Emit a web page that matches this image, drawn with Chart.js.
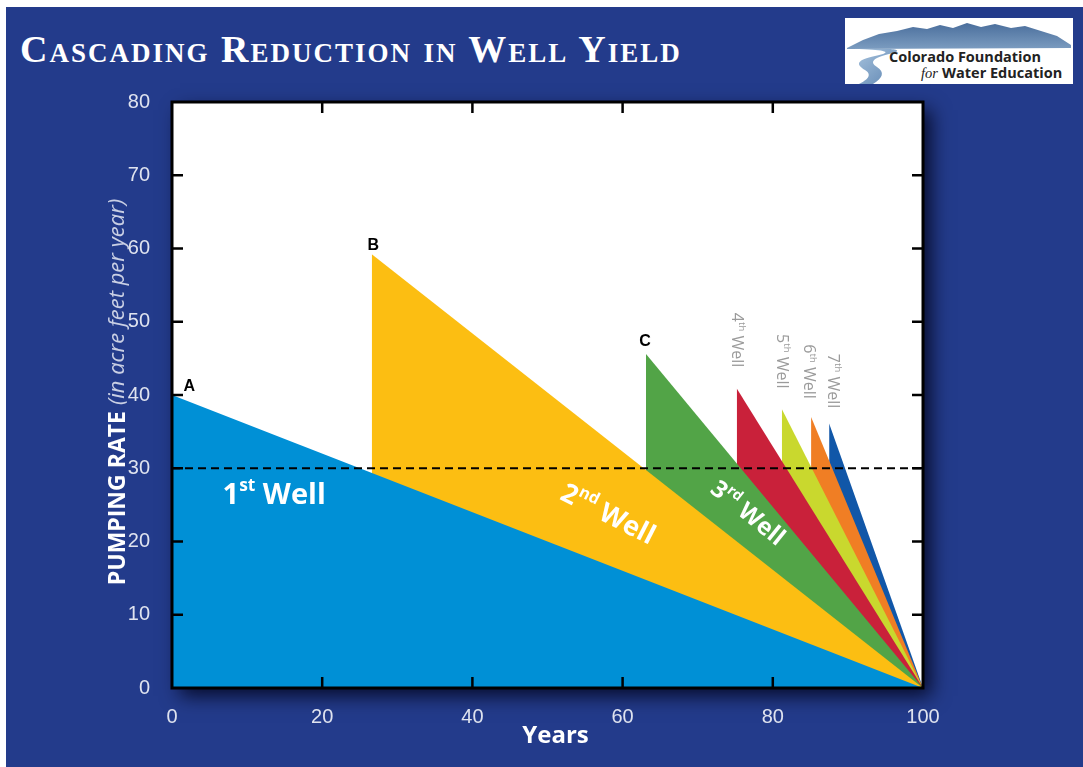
<!DOCTYPE html>
<html>
<head>
<meta charset="utf-8">
<script src="https://cdn.jsdelivr.net/npm/chart.js@4.4.1/dist/chart.umd.min.js"></script>
<style>
  body { margin: 0; background: #fff; width: 1083px; height: 767px; overflow: hidden; }
  #panel { position: absolute; left: 6px; top: 7px; width: 1077px; height: 760px; background: #233b8b; }
  #title { position: absolute; left: 20px; top: 27px; margin: 0; color: #fff;
           font-family: "Liberation Serif", "DejaVu Serif", serif; font-weight: bold;
           font-variant: small-caps; font-size: 38px; letter-spacing: 2px; white-space: nowrap; }
  #logo { position: absolute; left: 845px; top: 18px; }
  #chart { position: absolute; left: 0; top: 0; }
</style>
</head>
<body>
<div id="panel"></div>
<h1 id="title">Cascading Reduction in Well Yield</h1>
<svg id="logo" width="228" height="66" viewBox="0 0 228 66">
  <defs>
    <linearGradient id="mtn" x1="0" y1="0" x2="0" y2="1">
      <stop offset="0" stop-color="#4a6e9c"/>
      <stop offset="1" stop-color="#7b9cc0"/>
    </linearGradient>
    <linearGradient id="riv" x1="0" y1="0" x2="1" y2="1">
      <stop offset="0" stop-color="#a5c1dc"/>
      <stop offset="1" stop-color="#5f86b2"/>
    </linearGradient>
  </defs>
  <rect x="0" y="0" width="228" height="66" fill="#fff"/>
  <polygon fill="url(#mtn)" points="2,30 18,22 34,16 52,13 68,9 82,11 95,7 108,10 122,5 136,9 150,6 166,10 180,8 196,13 212,18 226,27 226,30 2,31"/>
  <path fill="url(#riv)" d="M14,31 C40,32 50,34 30,38 C12,42 10,46 20,52 C28,57 22,62 14,66 L28,66 C38,60 40,54 32,49 C24,44 28,40 44,36 C58,33 52,31 42,31 Z"/>
  <text x="44" y="44" font-family="Open Sans, Liberation Sans, sans-serif" font-weight="700" font-size="14.5" fill="#222">Colorado Foundation</text>
  <text x="76" y="60" font-family="Liberation Serif, serif" font-style="italic" font-size="14.5" fill="#222">for</text>
  <text x="97" y="60" font-family="Open Sans, Liberation Sans, sans-serif" font-weight="700" font-size="14.5" fill="#222">Water Education</text>
</svg>
<canvas id="chart" width="1083" height="767"></canvas>
<script>
// years where each well starts pumping and its starting rate (acre feet per year)
var wellNames = ["1st Well", "2nd Well", "3rd Well", "4th Well", "5th Well", "6th Well", "7th Well"];
var wellStart = [0, 26.6, 63.1, 75.2, 81.2, 85.1, 87.5];
var wellPeak = [40, 59.2, 45.6, 40.9, 38.1, 37.0, 36.1];
var wellEnd = [100, 100, 100, 100, 100, 100, 100];
var wellColors = ["#0090d6", "#fcbe12", "#52a447", "#c9213a", "#c9d82e", "#f07e24", "#1157a8"];
var thresholdRate = 30;
var xTicks = [0, 20, 40, 60, 80, 100];
var yTicks = [0, 10, 20, 30, 40, 50, 60, 70, 80];

var datasets = [];
// dashed threshold line, first so it is drawn on top
datasets.push({
    label: "threshold",
    data: [{x: 0, y: thresholdRate}, {x: 100, y: thresholdRate}],
    borderColor: "#000",
    borderWidth: 2,
    borderDash: [8, 5],
    pointRadius: 0,
    fill: false
});
for (var i = 0; i < wellNames.length; i++) {
    datasets.push({
        label: wellNames[i],
        data: [{x: wellStart[i], y: 0}, {x: wellStart[i], y: wellPeak[i]}, {x: wellEnd[i], y: 0}],
        borderColor: "rgba(0,0,0,0)",
        borderWidth: 0,
        backgroundColor: wellColors[i],
        pointRadius: 0,
        fill: "origin",
        tension: 0
    });
}

// white plot box with shadow
const plotBox = {
    id: "plotBox",
    beforeDraw(chart) {
        const ctx = chart.ctx, a = chart.chartArea;
        ctx.save();
        ctx.shadowColor = "rgba(0,0,20,0.8)";
        ctx.shadowBlur = 18;
        ctx.shadowOffsetX = 8;
        ctx.shadowOffsetY = 8;
        ctx.fillStyle = "#fff";
        ctx.fillRect(a.left, a.top, a.right - a.left, a.bottom - a.top);
        ctx.restore();
    },
    afterDatasetsDraw(chart) {
        const ctx = chart.ctx, a = chart.chartArea;
        const xs = chart.scales.x, ys = chart.scales.y;
        ctx.save();
        ctx.strokeStyle = "#000";
        ctx.lineWidth = 2.5;
        ctx.beginPath();
        xTicks.forEach(function(v) {
            if (v <= xs.min || v >= xs.max) return;
            var px = xs.getPixelForValue(v);
            ctx.moveTo(px, a.bottom); ctx.lineTo(px, a.bottom - 11);
            ctx.moveTo(px, a.top); ctx.lineTo(px, a.top + 11);
        });
        yTicks.forEach(function(v) {
            if (v <= ys.min || v >= ys.max) return;
            var py = ys.getPixelForValue(v);
            ctx.moveTo(a.left, py); ctx.lineTo(a.left + 11, py);
            ctx.moveTo(a.right, py); ctx.lineTo(a.right - 11, py);
        });
        ctx.stroke();
        ctx.lineWidth = 3;
        ctx.strokeRect(a.left, a.top, a.right - a.left, a.bottom - a.top);
        ctx.restore();
    }
};

// draw text made of pieces, some raised as superscripts, centred on (0,0)
function drawPieces(ctx, pieces, size, weight, family) {
    var total = 0;
    pieces.forEach(function(p) {
        ctx.font = weight + " " + (p.sup ? size * 0.6 : size) + "px " + family;
        p.w = ctx.measureText(p.t).width;
        total += p.w;
    });
    var x = -total / 2;
    pieces.forEach(function(p) {
        ctx.font = weight + " " + (p.sup ? size * 0.6 : size) + "px " + family;
        ctx.fillText(p.t, x, p.sup ? -size * 0.32 : 0);
        x += p.w;
    });
}

const labels = {
    id: "labels",
    afterDraw(chart) {
        const ctx = chart.ctx, xs = chart.scales.x, ys = chart.scales.y, a = chart.chartArea;
        const sans = '"Open Sans", "Liberation Sans", sans-serif';
        ctx.save();
        ctx.textBaseline = "middle";

        // point letters
        ctx.fillStyle = "#000";
        ctx.textAlign = "center";
        ctx.font = 'bold 16px "Liberation Sans", Arial, sans-serif';
        [["A", 2.3, 41.2], ["B", 26.8, 60.4], ["C", 63, 47.3]].forEach(function(l) {
            ctx.fillText(l[0], xs.getPixelForValue(l[1]), ys.getPixelForValue(l[2]));
        });
        ctx.textAlign = "left";

        // big well labels
        var big = [
            {p: [{t: "1"}, {t: "st", sup: true}, {t: " Well"}], x: 13.6, y: 26.3, rot: 0, size: 29},
            {p: [{t: "2"}, {t: "nd", sup: true}, {t: " Well"}], x: 58, y: 23.6, rot: 27, size: 27},
            {p: [{t: "3"}, {t: "rd", sup: true}, {t: " Well"}], x: 76.6, y: 23.8, rot: 39, size: 24}
        ];
        ctx.fillStyle = "#fff";
        big.forEach(function(b) {
            ctx.save();
            ctx.translate(xs.getPixelForValue(b.x), ys.getPixelForValue(b.y));
            ctx.rotate(b.rot * Math.PI / 180);
            drawPieces(ctx, b.p, b.size, "bold", sans);
            ctx.restore();
        });

        // small vertical labels
        var small = [["4", "th", 75.2, 47.5], ["5", "th", 81.2, 44.6], ["6", "th", 84.7, 43.2], ["7", "th", 88, 41.9]];
        ctx.fillStyle = "#9b9b9b";
        small.forEach(function(s) {
            ctx.save();
            ctx.translate(xs.getPixelForValue(s[2]), ys.getPixelForValue(s[3]));
            ctx.rotate(Math.PI / 2);
            drawPieces(ctx, [{t: s[0]}, {t: s[1], sup: true}, {t: " Well"}], 16, "normal", sans);
            ctx.restore();
        });

        // axis titles
        ctx.fillStyle = "#fff";
        ctx.textAlign = "center";
        ctx.font = 'bold 24px ' + sans;
        ctx.fillText("Years", (a.left + a.right) / 2 + 8, 736);

        ctx.save();
        ctx.translate(118, 392);
        ctx.rotate(-Math.PI / 2);
        ctx.textAlign = "left";
        var f1 = 'bold 23px ' + sans, f2 = 'italic 22px ' + sans;
        ctx.font = f1;
        var t1 = "PUMPING RATE ";
        var w1 = ctx.measureText(t1).width;
        ctx.font = f2;
        var t2 = "(in acre feet per year)";
        var w2 = ctx.measureText(t2).width;
        var x0 = -(w1 + w2) / 2;
        ctx.font = f1;
        ctx.fillStyle = "#fff";
        ctx.fillText(t1, x0, 0);
        ctx.font = f2;
        ctx.fillStyle = "#c9cfe4";
        ctx.fillText(t2, x0 + w1, 0);
        ctx.restore();

        ctx.restore();
    }
};

const myChart = new Chart(document.getElementById("chart"), {
    type: "line",
    data: { datasets: datasets },
    options: {
        responsive: false,
        animation: false,
        events: [],
        layout: { padding: { left: 0, top: 102, right: 160, bottom: 0 } },
        plugins: { legend: { display: false }, tooltip: { enabled: false } },
        scales: {
            x: {
                type: "linear", min: 0, max: 100,
                afterBuildTicks: function(s) { s.ticks = xTicks.map(function(v) { return {value: v}; }); },
                afterFit: function(s) { s.height = 79; },
                grid: { display: false },
                border: { display: false },
                ticks: { color: "#dfe3ef", padding: 9, font: { family: '"Liberation Sans", Arial, sans-serif', size: 20 } }
            },
            y: {
                type: "linear", min: 0, max: 80,
                afterBuildTicks: function(s) { s.ticks = yTicks.map(function(v) { return {value: v}; }); },
                afterFit: function(s) { s.width = 172; },
                grid: { display: false },
                border: { display: false },
                ticks: { color: "#dfe3ef", padding: 14, font: { family: '"Liberation Sans", Arial, sans-serif', size: 20 } }
            }
        }
    },
    plugins: [plotBox, labels]
});
</script>
</body>
</html>
